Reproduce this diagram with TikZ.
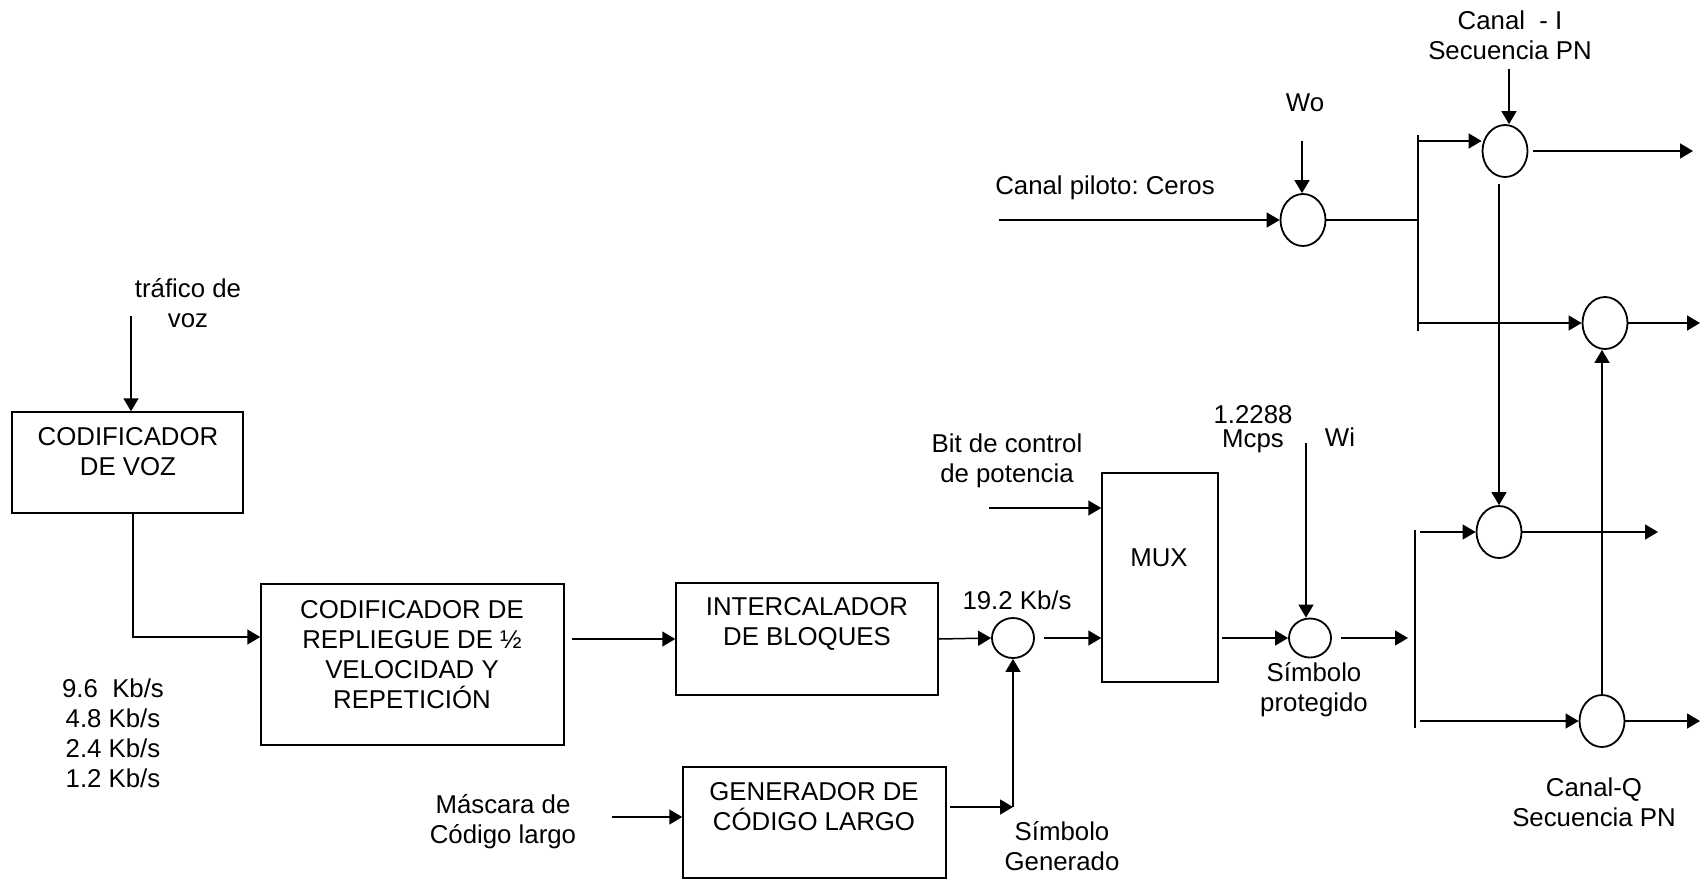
\documentclass[tikz,border=0pt]{standalone}
\usepackage{fontspec}
\setmainfont{Liberation Sans}
\usetikzlibrary{arrows.meta,shapes.geometric,positioning}

\begin{document}
\begin{tikzpicture}[x=0.5pt,y=-0.5pt,
    bloque/.style={draw,line width=0.75pt,inner sep=0pt},
    mezcla/.style={draw,ellipse,line width=0.9pt,inner sep=0pt,minimum width=22.5pt,minimum height=26pt},
    texto/.style={align=center,inner sep=0pt,font=\fontsize{12.9}{15}\selectfont\frenchspacing},
    flecha/.style={-{Triangle[length=6.5pt,width=7.5pt]},line width=0.75pt},
    linea/.style={line width=0.75pt}]
    \useasboundingbox (0,0) rectangle (1702,879);
    \node[bloque,minimum width=115.5pt,minimum height=50.5pt] (voz) at (127.5,462.5) {};
    \node[bloque,minimum width=151.5pt,minimum height=80.5pt] (rep) at (412.5,664.5) {};
    \node[bloque,minimum width=131pt,minimum height=56pt] (intc) at (807,639) {};
    \node[bloque,minimum width=131.5pt,minimum height=55.5pt] (gen) at (814.5,822.5) {};
    \node[bloque,minimum width=58pt,minimum height=104.5pt] (mux) at (1160,577.5) {};
    \node[mezcla,minimum width=21pt,minimum height=20pt] (m1) at (1013,638) {};
    \node[mezcla,minimum width=21pt,minimum height=19.5pt] (m2) at (1310,638) {};
    \node[mezcla] (wo) at (1303,220) {};
    \node[mezcla] (ca) at (1505,151) {};
    \node[mezcla] (cb) at (1605,323) {};
    \node[mezcla] (cc) at (1499,532) {};
    \node[mezcla] (cd) at (1602,721) {};
    \node[texto] (ttraf) at (188,303) {tráfico de\\voz};
    \node[texto] (tvoz) at (128,452) {CODIFICADOR\\DE VOZ};
    \node[texto] (trep) at (412,655) {CODIFICADOR DE\\REPLIEGUE DE ½\\VELOCIDAD Y\\REPETICIÓN};
    \node[texto] (tvel) at (113,733) {9.6\ \ Kb/s\\4.8 Kb/s\\2.4 Kb/s\\1.2 Kb/s};
    \node[texto] (tintc) at (807,624) {INTERCALADOR\\DE BLOQUES};
    \node[texto] (tgen) at (814,807) {GENERADOR DE\\CÓDIGO LARGO};
    \node[texto] (tmasc) at (503,822) {Máscara de\\Código largo};
    \node[texto] (t192) at (1017,600) {19.2 Kb/s};
    \node[texto] (tbit) at (1007,461) {Bit de control\\de potencia};
    \node[texto] (tmux) at (1159,558) {MUX};
    \node[texto] (tsgen) at (1062,846) {Símbolo\\Generado};
    \node[texto,font=\fontsize{12.9}{12}\selectfont] (tmcps) at (1253,429) {1.2288\\Mcps};
    \node[texto] (twi) at (1340,437) {Wi};
    \node[texto] (tsprot) at (1314,690) {Símbolo\\protegido};
    \node[texto] (tpil) at (1105,188) {Canal piloto: Ceros};
    \node[texto] (two) at (1305,103) {Wo};
    \node[texto] (tpni) at (1510,35) {Canal\ \ - I\\Secuencia PN};
    \node[texto] (tpnq) at (1594,802) {Canal-Q\\Secuencia PN};
    \coordinate (trafico) at (131,316);
    \coordinate (bitin) at (989,508);
    \coordinate (mascin) at (612,817);
    \coordinate (genout) at (1013,807);
    \coordinate (wiin) at (1306,443);
    \coordinate (qin) at (1408,638);
    \coordinate (qtop) at (1415,530);
    \coordinate (qbot) at (1415,728);
    \coordinate (itop) at (1418,135);
    \coordinate (ibot) at (1418,331);
    \coordinate (pilin) at (999,220);
    \coordinate (woin) at (1302,141);
    \coordinate (pni) at (1509,69);
    \coordinate (outa) at (1693,151);
    \coordinate (outb) at (1700,323);
    \coordinate (outc) at (1658,532);
    \coordinate (outd) at (1700,721);
    \draw[flecha] (trafico) -- (trafico |- voz.north);
    \draw[flecha] ([xshift=2.75pt]voz.south) |- ([yshift=13.75pt]rep.west);
    \draw[flecha] (rep.east |- intc.west) ++(7,0) -- (intc.west);
    \draw[flecha] (intc.east) -- (m1.west);
    \draw[flecha] (m1.east) ++(9,0) -- (m1.east -| mux.west);
    \draw[flecha] (bitin) -- (bitin -| mux.west);
    \draw[flecha] (mascin) -- (mascin -| gen.west);
    \draw[flecha] (gen.east |- genout) ++(3,0) -- (genout);
    \draw[flecha] (genout) -- (m1.south);
    \draw[flecha] (mux.east |- m2.west) ++(3,0) -- (m2.west);
    \draw[flecha] (wiin) -- (wiin |- m2.north);
    \draw[flecha] (m2.east) ++(9,0) -- (qin);
    \draw[linea] (qtop) -- (qbot);
    \draw[flecha] (qtop |- cc.west) ++(5,0) -- (cc.west);
    \draw[flecha] (qtop |- cd.west) ++(5,0) -- (cd.west);
    \draw[flecha] (cc.east) -- (outc);
    \draw[flecha] (cd.east) -- (outd);
    \draw[flecha] (cd.north) -- (cd.north |- cb.south);
    \draw[flecha] (ca.south -| cc.north) ++(0,6) -- (cc.north);
    \draw[flecha] (pilin) -- (wo.west);
    \draw[flecha] (woin) -- (woin |- wo.north);
    \draw[linea] (wo.east) -- (wo.east -| itop);
    \draw[linea] (itop) -- (ibot);
    \draw[flecha] (itop |- ca.west) ++(0,-10) -- ([yshift=5pt]ca.west);
    \draw[flecha] (itop |- cb.west) -- (cb.west);
    \draw[flecha] (ca.east) ++(5,0) -- (outa);
    \draw[flecha] (cb.east) -- (outb);
    \draw[flecha] (pni) -- (pni |- ca.north);
\end{tikzpicture}
\end{document}
